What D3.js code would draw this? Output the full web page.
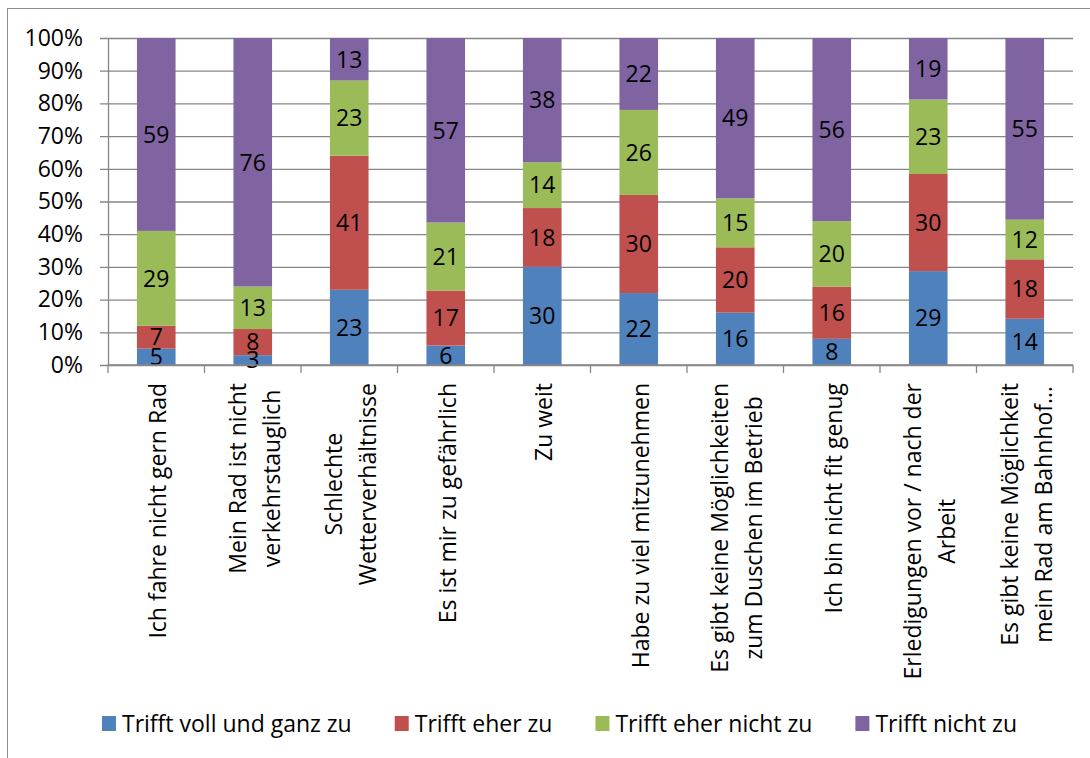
<!DOCTYPE html>
<html>
<head>
<meta charset="utf-8">
<script src="https://cdn.jsdelivr.net/npm/d3@7"></script>
<style>
  body { margin: 0; background: #fff; }
  text { font-family: "Open Sans", sans-serif; fill: #000; }
</style>
</head>
<body>
<div id="chart"></div>
<script>
const categories = [
    ["Ich fahre nicht gern Rad"],
    ["Mein Rad ist nicht", "verkehrstauglich"],
    ["Schlechte", "Wetterverhältnisse"],
    ["Es ist mir zu gefährlich"],
    ["Zu weit"],
    ["Habe zu viel mitzunehmen"],
    ["Es gibt keine Möglichkeiten", "zum Duschen im Betrieb"],
    ["Ich bin nicht fit genug"],
    ["Erledigungen vor / nach der", "Arbeit"],
    ["Es gibt keine Möglichkeit", "mein Rad am Bahnhof…"]
]
const seriesNames = ["Trifft voll und ganz zu", "Trifft eher zu", "Trifft eher nicht zu", "Trifft nicht zu"]
const voll = [5, 3, 23, 6, 30, 22, 16, 8, 29, 14]
const eher = [7, 8, 41, 17, 18, 30, 20, 16, 30, 18]
const eherNicht = [29, 13, 23, 21, 14, 26, 15, 20, 23, 12]
const nicht = [59, 76, 13, 57, 38, 22, 49, 56, 19, 55]
const yTicks = [0, .1, .2, .3, .4, .5, .6, .7, .8, .9, 1]

const colors = ['#4f81bd', '#c0504d', '#9bbb59', '#8064a2']
const W = 1090, H = 758
const plot = {left: 108, right: 1073, top: 38, bottom: 365}
const fontSize = 23
const gridColor = '#868686'

const svg = d3.select('#chart').append('svg')
    .attr('width', W).attr('height', H)

// outer chart frame
svg.append('rect')
    .attr('x', 7.5).attr('y', 8.5)
    .attr('width', W + 10).attr('height', H + 10)
    .attr('fill', '#fff').attr('stroke', '#8c8c8c').attr('stroke-width', 1)

const rows = categories.map((c, i) => ({
    key: i,
    s0: voll[i], s1: eher[i], s2: eherNicht[i], s3: nicht[i]
}))
const keys = ['s0', 's1', 's2', 's3']

const x = d3.scaleBand()
    .domain(rows.map(d => d.key))
    .range([plot.left, plot.right])
    .paddingInner(0.6).paddingOuter(0.3)
const xb = d3.scaleBand()
    .domain(rows.map(d => d.key))
    .range([plot.left, plot.right])
const y = d3.scaleLinear().domain([0, 1]).range([plot.bottom, plot.top])

// gridlines (with the small outer ticks on the left)
const gy = svg.append('g')
    .attr('transform', `translate(${plot.right},0)`)
gy.call(d3.axisLeft(y).tickValues(yTicks).tickSize(plot.right - plot.left + 8).tickFormat(''))
gy.select('.domain').remove()
gy.selectAll('.tick line').attr('stroke', gridColor).attr('stroke-width', 1.3)

// y axis with labels
const gyl = svg.append('g').attr('transform', `translate(${plot.left},0)`)
gyl.call(d3.axisLeft(y).tickValues(yTicks).tickFormat(d3.format('.0%')).tickSize(0).tickPadding(25))
gyl.select('.domain').attr('stroke', gridColor).attr('stroke-width', 1.3)
gyl.selectAll('text').style('font-size', fontSize + 'px').attr('font-family', null)

// stacked bars (normalized to 100%)
const stack = d3.stack().keys(keys)
    .offset(d3.stackOffsetExpand)
const layers = stack(rows)

const gl = svg.append('g').selectAll('g')
    .data(layers).join('g')
    .attr('fill', (d, i) => colors[i])

gl.selectAll('rect')
    .data(d => d).join('rect')
    .attr('x', d => x(d.data.key))
    .attr('width', x.bandwidth())
    .attr('y', d => y(d[1]))
    .attr('height', d => y(d[0]) - y(d[1]))

// data labels
const gt = svg.append('g').selectAll('g')
    .data(layers).join('g')
gt.selectAll('text')
    .data(d => d.map(v => ({v: v, key: d.key})))
    .join('text')
    .attr('x', d => x(d.v.data.key) + x.bandwidth() / 2)
    .attr('y', d => y((d.v[0] + d.v[1]) / 2))
    .attr('text-anchor', 'middle')
    .attr('dy', '0.36em')
    .style('font-size', fontSize + 'px')
    .text(d => d.v.data[d.key])

// x axis line and ticks
const gx = svg.append('g').attr('transform', `translate(0,${plot.bottom})`)
gx.append('line')
    .attr('x1', plot.left).attr('x2', plot.right)
    .attr('stroke', gridColor).attr('stroke-width', 1.3)
gx.selectAll('.cat-tick')
    .data(d3.range(rows.length + 1))
    .join('line')
    .attr('x1', i => plot.left + i * xb.step())
    .attr('x2', i => plot.left + i * xb.step())
    .attr('y1', 0).attr('y2', 8)
    .attr('stroke', gridColor).attr('stroke-width', 1.3)

// category labels, rotated, lines centred on each other
const lineH = 34
const labelTop = plot.bottom + 18
const cats = gx.selectAll('.cat')
    .data(categories).join('g')
    .attr('class', 'cat')

cats.each(function(lines, i) {
    const g = d3.select(this)
    const cx = xb(i) + xb.bandwidth() / 2
    const t = g.append('text')
        .style('font-size', fontSize + 'px')
        .attr('text-anchor', 'middle')
    lines.forEach((l, j) => {
        t.append('tspan').attr('x', 0)
            .attr('dy', j === 0 ? 0 : lineH)
            .text(l)
    })
    let maxW = 0
    t.selectAll('tspan').each(function() {
        maxW = Math.max(maxW, this.getComputedTextLength())
    })
    const off = (lines.length - 1) * lineH / 2
    const yc = (labelTop - plot.bottom) + maxW / 2
    t.attr('transform', `translate(${cx - off + 10},${yc}) rotate(-90)`)
})

// legend
const legend = svg.append('g').attr('transform', 'translate(102,724)')
let lx = 0
seriesNames.forEach((n, i) => {
    const item = legend.append('g').attr('transform', `translate(${lx},0)`)
    item.append('rect')
        .attr('x', 0).attr('y', -8)
        .attr('width', 14).attr('height', 15)
        .attr('fill', colors[i])
    const t = item.append('text')
        .attr('x', 20).attr('dy', '0.35em')
        .style('font-size', fontSize + 'px')
        .text(n)
    lx += 20 + t.node().getComputedTextLength() + 43
})
</script>
</body>
</html>
